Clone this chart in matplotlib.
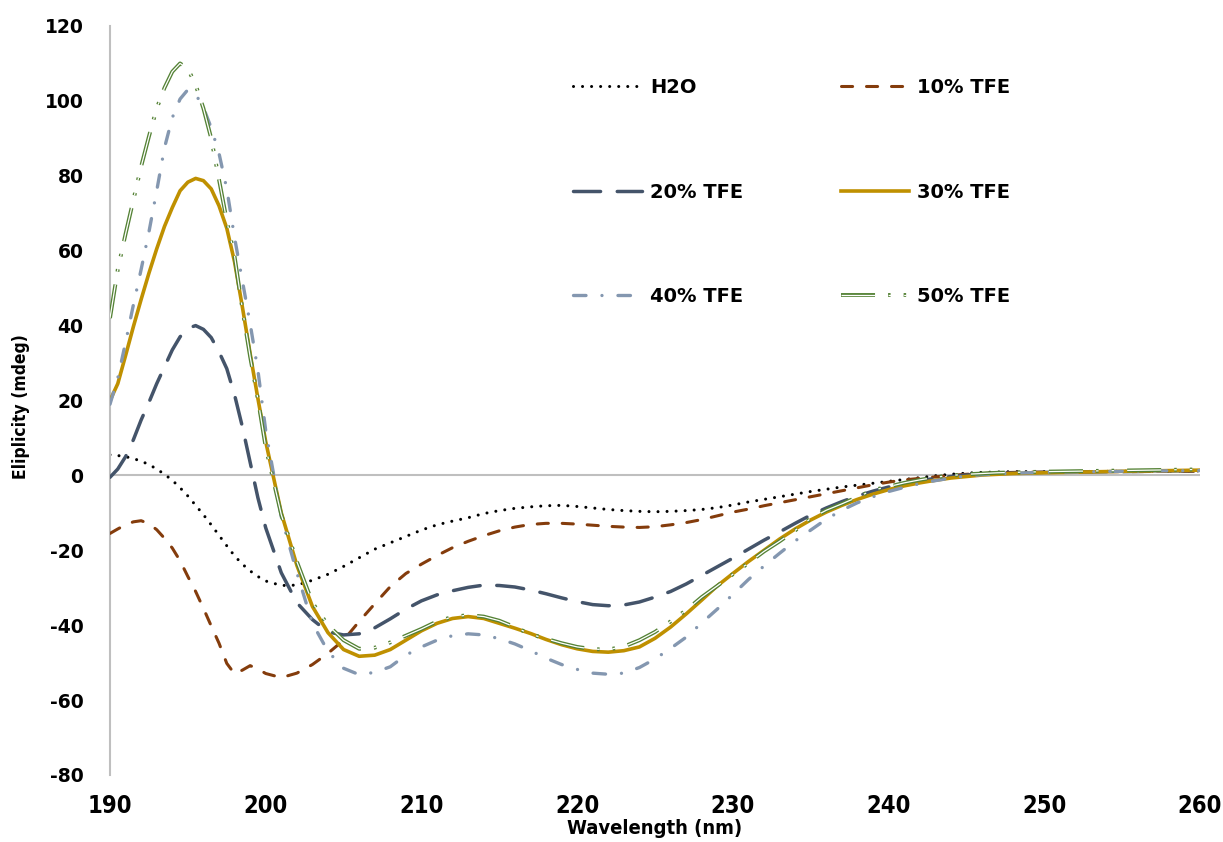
import numpy as np
import matplotlib
matplotlib.use("Agg")
import matplotlib.pyplot as plt
import matplotlib.patheffects as pe
from matplotlib import font_manager as fm

plt.rcParams['lines.scale_dashes'] = False
plt.rcParams['axes.unicode_minus'] = False

# wavelength grid (nm): half steps over the peak region
wl = [190 + 0.5 * i for i in range(21)] + list(range(201, 249)) + [250, 255, 260]

h2o = [5.5, 5.3, 5.0, 4.5, 3.8, 2.9, 1.7, 0.3, -1.3, -3.3,
       -5.5, -8, -10.5, -13.2, -16, -18.8, -21.5, -23.7, -25.5, -27, -28.2,
       -29.4, -29.3, -28, -26.4, -24.3, -22, -19.7, -18, -16.3,
       -14.6, -13.2, -12.2, -11.3, -10.2, -9.4, -8.8, -8.4, -8.1, -8.0,
       -8.3, -8.7, -9.1, -9.4, -9.6, -9.7, -9.6, -9.4, -9.1, -8.6,
       -7.9, -7.1, -6.4, -5.7, -5.0, -4.3, -3.7, -3.1, -2.6, -2.1,
       -1.6, -1.1, -0.6, -0.1, 0.3, 0.6, 0.8, 0.9, 1.0, 1.0, 1.1, 1.2]

tfe10 = [-15.5, -14.3, -13.2, -12.4, -12.1, -12.9, -14.5, -16.8, -19.4, -22.8,
         -27, -31, -35.5, -40.2, -44.8, -50.2, -53, -52, -50.8, -51.7, -52.9,
         -54, -52.8, -50.5, -47.5, -44, -39, -34.3, -29.7, -26.2,
         -23.7, -21.4, -19.3, -17.6, -16.1, -14.8, -13.8, -13.1, -12.8, -12.8,
         -13, -13.3, -13.6, -13.8, -13.9, -13.7, -13.2, -12.6, -11.8, -10.8,
         -9.8, -9, -8.1, -7.3, -6.5, -5.7, -4.9, -4.1, -3.3, -2.5,
         -1.8, -1.2, -0.8, -0.4, 0, 0.3, 0.5, 0.7, 0.8, 0.9, 1.0, 1.1]

tfe20 = [-0.5, 1.7, 5, 9.5, 14.8, 19.5, 24.5, 29, 33.5, 37,
         39.3, 40, 39, 36.8, 33, 28.5, 21.5, 13, 3.5, -6, -14,
         -26, -34, -38.5, -41.8, -42.6, -42.3, -40.7, -38.3, -35.7,
         -33.5, -31.9, -30.8, -29.9, -29.3, -29.4, -29.8, -30.6, -31.6, -32.7,
         -33.7, -34.5, -34.8, -34.6, -33.8, -32.5, -31, -29, -26.7, -24.4,
         -22.1, -19.7, -17.3, -15.1, -12.8, -10.6, -8.7, -7, -5.5, -4.2,
         -3.1, -2.2, -1.4, -0.8, -0.3, 0.1, 0.3, 0.5, 0.6, 0.8, 1.0, 1.3]

tfe30 = [20, 24.5, 32, 39.7, 47, 54, 60.5, 66.5, 71.5, 76,
         78.3, 79.3, 78.7, 76.5, 72, 66, 57, 45, 32.5, 20.5, 9,
         -10, -24, -35, -42, -46.5, -48.3, -48, -46.5, -44,
         -41.5, -39.5, -38.2, -37.7, -38.2, -39.5, -40.8, -42.2, -43.8, -45.2,
         -46.3, -47, -47.2, -46.8, -45.8, -43.5, -40.5, -37, -33.3, -29.5,
         -26.2, -23, -20, -17, -14.3, -11.9, -9.8, -8, -6.4, -5,
         -3.8, -2.8, -2, -1.3, -0.7, -0.3, 0.1, 0.3, 0.5, 0.7, 1.1, 1.4]

tfe40 = [19, 26, 35.5, 45.5, 55, 65, 76, 87.5, 95.5, 100.5,
         103, 101.8, 98.2, 92.8, 86, 76.5, 63.5, 52, 40.5, 28, 12,
         -11, -26, -39.5, -47, -51.5, -53.2, -52.6, -51.1, -48,
         -45.8, -44, -42.8, -42.3, -42.6, -43.6, -45, -46.8, -48.8, -50.5,
         -51.8, -52.8, -53.1, -52.8, -51.3, -49, -46.2, -43.2, -39.4, -35.7,
         -31.8, -27.8, -24.2, -20.8, -17.5, -14.6, -11.7, -9.3, -7.3, -5.7,
         -4.3, -3.2, -2.2, -1.4, -0.7, -0.2, 0.2, 0.4, 0.6, 0.8, 1.1, 1.3]

tfe50 = [42, 55, 64.5, 73.5, 82.5, 90.5, 98, 103.5, 107.8, 110,
         108.6, 104.3, 98, 90, 79, 68, 58.5, 44.5, 31.7, 20.3, 7.5,
         -10.5, -23, -34, -40, -44, -46.3, -46, -44.6, -42.8,
         -41, -39, -37.8, -37.3, -37.7, -38.8, -40.5, -42.4, -43.6, -44.8,
         -45.8, -46.4, -46.5, -45.7, -44, -41.8, -39, -36, -32.5, -29.5,
         -26.4, -23.4, -20.3, -17.6, -14.7, -11.5, -9.3, -7.6, -5.8, -3.9,
         -3, -2, -1.2, -0.5, 0, 0.3, 0.5, 0.7, 0.8, 1.0, 1.3, 1.6]

labels = ['H2O', '10% TFE', '20% TFE', '30% TFE', '40% TFE', '50% TFE']
colors = ['black', '#843C0C', '#44546A', '#BF9000', '#8497B0', '#548235']

# pick a narrow font for the x ticks and axis titles if one is there
fonts = fm.fontManager.ttflist
narrow_stretch = 'normal'
if any(f.name == 'Liberation Sans Narrow' for f in fonts):
    narrow = ['Liberation Sans Narrow', 'DejaVu Sans']
elif any(f.name == 'DejaVu Sans' and f.stretch == 'condensed' for f in fonts):
    narrow = ['DejaVu Sans']
    narrow_stretch = 'condensed'
else:
    narrow = ['Lato', 'DejaVu Sans']

fig = plt.figure(figsize=(12.23, 8.42), dpi=100)
ax = fig.add_axes([110/1223, 1-775/842, 1090/1223, 749/842])

ax.axhline(0, color='#BFBFBF', lw=1.5, zorder=1)

l0, = ax.plot(wl, h2o, color=colors[0], lw=2.2, linestyle=(0, (0.01, 6.5)),
              dash_capstyle='round', label=labels[0], zorder=2)
l1, = ax.plot(wl, tfe10, color=colors[1], lw=2.2, linestyle=(0, (8, 10)),
              dash_capstyle='round', label=labels[1], zorder=3)
l2, = ax.plot(wl, tfe20, color=colors[2], lw=2.5, linestyle=(0, (19.5, 12)),
              dash_capstyle='round', label=labels[2], zorder=4)
l3, = ax.plot(wl, tfe30, color=colors[3], lw=2.6, label=labels[3], zorder=5)
l4, = ax.plot(wl, tfe40, color=colors[4], lw=2.4, linestyle=(0, (9, 11.5, 0.01, 11.5)),
              dash_capstyle='round', label=labels[4], zorder=6)
l5, = ax.plot(wl, tfe50, color=colors[5], lw=2.8,
              linestyle=(0, (24.5, 9.4, 1.8, 9.4, 1.8, 9.4)),
              dash_capstyle='butt', label=labels[5], zorder=7,
              path_effects=[pe.Stroke(linewidth=2.8, foreground=colors[5]),
                            pe.Stroke(linewidth=0.9, foreground='white')])

ax.set_xlim(190, 260)
ax.set_ylim(-80, 120)
ax.set_xticks(range(190, 261, 10))
ax.set_yticks(range(-80, 121, 20))
for s in ['top', 'right', 'bottom']:
    ax.spines[s].set_visible(False)
ax.spines['left'].set_color('#BFBFBF')
ax.spines['left'].set_linewidth(1.5)
ax.tick_params(axis='both', length=0)
ax.tick_params(axis='y', pad=19)
ax.tick_params(axis='x', pad=14)
for t in ax.get_yticklabels():
    t.set_fontsize(13.5)
    t.set_fontweight('bold')
for t in ax.get_xticklabels():
    t.set_fontsize(17)
    t.set_fontweight('bold')
    t.set_family(narrow)
    t.set_fontstretch(narrow_stretch)

fig.text(655/1223, 1-828/842, 'Wavelength (nm)', ha='center', va='center',
         fontsize=14.5, fontweight='bold', family=narrow, fontstretch=narrow_stretch)
fig.text(21/1223, 1-407/842, 'Eliplicity (mdeg)', ha='center', va='center',
         rotation=90, fontsize=12.5, fontweight='bold', family=narrow,
         fontstretch=narrow_stretch)

handles = [l0, l2, l4, l1, l3, l5]
leg = fig.legend(handles, [h.get_label() for h in handles], ncol=2,
                 loc='center', bbox_to_anchor=(792/1223, 1-192/842),
                 frameon=False, handlelength=3.5, handletextpad=0.45,
                 columnspacing=5.0, labelspacing=4.4,
                 prop={'size': 14, 'weight': 'bold'})

fig.savefig('out.png', dpi=100)
